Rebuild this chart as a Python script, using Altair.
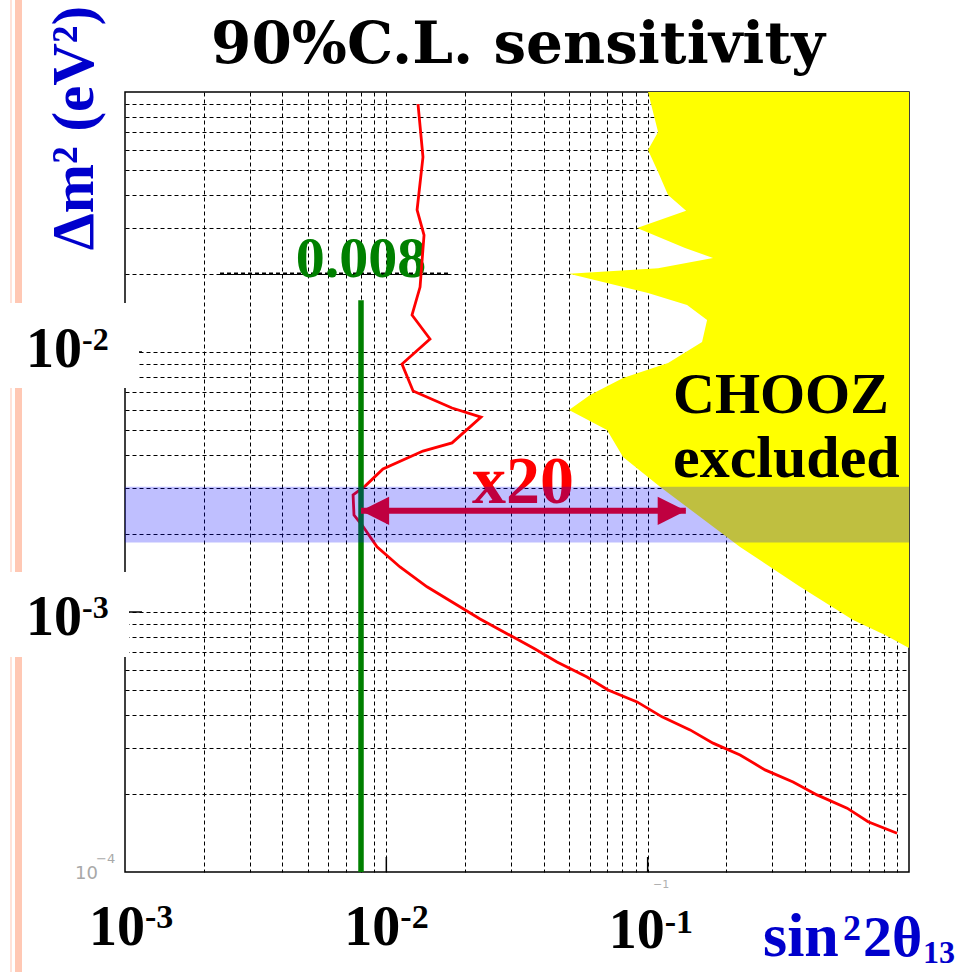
import altair as alt
import pandas as pd

# ---- data -----------------------------------------------------------------
# 90% C.L. sensitivity contour: sin^2(2 theta13) vs delta m^2 (eV^2)
sens_s2t = [0.01322, 0.01381, 0.01311, 0.01394, 0.01346, 0.01254, 0.01469,
            0.01148, 0.01266, 0.01784, 0.02304, 0.01784, 0.01381, 0.00971,
            0.00829, 0.00746, 0.00752, 0.00807, 0.00921, 0.01128, 0.01431,
            0.02284, 0.03708, 0.04499, 0.05862, 0.07055, 0.0911, 0.1135,
            0.1453, 0.1779, 0.2258, 0.2813, 0.3601, 0.4448, 0.5796, 0.6975,
            0.9003]
sens_dm2 = [0.0899, 0.0562, 0.03517, 0.02818, 0.01778, 0.01388, 0.01122,
            0.00899, 0.00708, 0.00609, 0.00562, 0.00447, 0.00416, 0.00355,
            0.00305, 0.00282, 0.00236, 0.00216, 0.00178, 0.00149, 0.00125,
            0.00094, 0.000721, 0.000642, 0.000562, 0.000501, 0.000451,
            0.000395, 0.000352, 0.000313, 0.000282, 0.000247, 0.000222,
            0.000198, 0.000176, 0.000156, 0.000141]

# CHOOZ excluded region: left boundary, region extends to sin^2 = 1
chooz_s2t = [0.1003, 0.1096, 0.1003, 0.1096, 0.1197, 0.1403, 0.0911, 0.1390,
             0.1779, 0.1096, 0.0500, 0.1003, 0.1415, 0.1688, 0.1615, 0.1197,
             0.0805, 0.0602, 0.0500, 0.0699, 0.0805, 0.1115, 0.2258, 0.3831,
             0.6110, 0.8101, 1.0]
chooz_dm2 = [0.1, 0.0702, 0.0598, 0.0492, 0.0402, 0.0349, 0.0300, 0.0251,
             0.0230, 0.0210, 0.0200, 0.01686, 0.01517, 0.01327, 0.01093,
             0.00907, 0.00794, 0.00683, 0.00598, 0.00501, 0.00395, 0.00303,
             0.00178, 0.00125, 0.000931, 0.000815, 0.000727]

# atmospheric delta m^2 band
band_dm2 = [0.00185, 0.00303]
# sensitivity value and its line extent
best_s2t = 0.008
best_line_dm2 = [0.0001, 0.0158]
# "x20" improvement arrow
arrow_s2t = [0.008, 0.14]
arrow_dm2 = 0.00245
# dotted highlight segment at delta m^2 = 0.02
highlight_s2t = [0.00231, 0.01753]
highlight_dm2 = 0.02

x_decades = [1e-3, 1e-2, 1e-1]
y_decades = [1e-2, 1e-3]
x_exponents = ["-3", "-2", "-1"]
y_exponents = ["-2", "-3"]
x_grid = [k * d for d in (1e-3, 1e-2, 1e-1) for k in range(1, 10)][1:]
y_grid = [k * d for d in (1e-4, 1e-3, 1e-2) for k in range(1, 10)][1:]

# ---- styling ----------------------------------------------------------------
W, H = 784, 780
SERIF = "Liberation Serif"
WIDE_SERIF = "DejaVu Serif"
SANS = "DejaVu Sans"
BLUE = "#0000CC"
GREEN = "#008000"
RED = "#FF0000"

xs = alt.Scale(type="log", domain=[1e-3, 1], nice=False)
ys = alt.Scale(type="log", domain=[1e-4, 1e-1], nice=False)


def grid_axis(values):
    return alt.Axis(values=values, grid=True, gridColor="black",
                    gridDash=[4, 3], gridWidth=1, gridOpacity=1,
                    labels=False, ticks=False, domain=False, title=None)


one = pd.DataFrame({"k": [0]})


def txt(text, x, y, size, color="black", font=SERIF, align="left", angle=0,
        weight="bold"):
    return alt.Chart(one).mark_text(
        text=text, align=align, baseline="alphabetic", font=font,
        fontSize=size, fontWeight=weight, color=color, angle=angle,
    ).encode(x=alt.value(x), y=alt.value(y))


def box(x1, x2, y1, y2, color):
    return alt.Chart(one).mark_rect(color=color).encode(
        x=alt.value(x1), x2=alt.value(x2), y=alt.value(y1), y2=alt.value(y2))


# ---- layers -----------------------------------------------------------------
chooz_df = pd.DataFrame({"s2t": chooz_s2t, "dm2": chooz_dm2,
                         "edge": [1.0] * len(chooz_s2t)})
chooz = alt.Chart(chooz_df).mark_area(orient="horizontal", color="#FFFF00",
                                      opacity=1).encode(
    y=alt.Y("dm2:Q", scale=ys, axis=grid_axis(y_grid)),
    x=alt.X("s2t:Q", scale=xs, axis=grid_axis(x_grid)),
    x2="edge:Q",
)

highlight = alt.Chart(pd.DataFrame({"a": [highlight_s2t[0]], "b": [highlight_s2t[1]],
                                    "y": [highlight_dm2]})).mark_rule(
    color="black", strokeWidth=2.4, strokeDash=[4, 3]).encode(
    x=alt.X("a:Q", scale=xs), x2="b:Q", y=alt.Y("y:Q", scale=ys))

best_label = alt.Chart(pd.DataFrame({"x": [best_s2t]})).mark_text(
    text="0.008", align="center", baseline="alphabetic", font=SERIF,
    fontSize=58, fontWeight="bold", color=GREEN).encode(
    x=alt.X("x:Q", scale=xs), y=alt.value(185))

sens_df = pd.DataFrame({"s2t": sens_s2t, "dm2": sens_dm2,
                        "i": list(range(len(sens_s2t)))})
sens = alt.Chart(sens_df).mark_line(color=RED, strokeWidth=2.8).encode(
    x=alt.X("s2t:Q", scale=xs), y=alt.Y("dm2:Q", scale=ys), order="i:Q")

best_line = alt.Chart(pd.DataFrame({"x": [best_s2t], "y1": [best_line_dm2[0]],
                                    "y2": [best_line_dm2[1]]})).mark_rule(
    color=GREEN, strokeWidth=5.5).encode(
    x=alt.X("x:Q", scale=xs), y=alt.Y("y1:Q", scale=ys), y2="y2:Q")

arrow_df = pd.DataFrame({"a": [arrow_s2t[0]], "b": [arrow_s2t[1]], "y": [arrow_dm2]})
shaft = alt.Chart(arrow_df).mark_rule(color=RED, strokeWidth=6).encode(
    x=alt.X("a:Q", scale=xs), x2="b:Q", y=alt.Y("y:Q", scale=ys))
head_l = alt.Chart(arrow_df).mark_point(
    shape="M1,-1L-1,0L1,1Z", size=800, filled=True, opacity=1, color=RED,
    xOffset=14).encode(x=alt.X("a:Q", scale=xs), y=alt.Y("y:Q", scale=ys))
head_r = alt.Chart(arrow_df).mark_point(
    shape="M-1,-1L1,0L-1,1Z", size=800, filled=True, opacity=1, color=RED,
    xOffset=-14).encode(x=alt.X("b:Q", scale=xs), y=alt.Y("y:Q", scale=ys))
x20 = txt("x20", 347, 411, 68, color=RED)

band = alt.Chart(pd.DataFrame({"x1": [1e-3], "x2": [1.0], "y1": [band_dm2[0]],
                               "y2": [band_dm2[1]]})).mark_rect(
    color="#0000FF", opacity=0.25).encode(
    x=alt.X("x1:Q", scale=xs), x2="x2:Q", y=alt.Y("y1:Q", scale=ys), y2="y2:Q")

# inward major ticks
xticks = alt.Chart(pd.DataFrame({"v": x_decades[1:]})).mark_rule(
    color="black", strokeWidth=1.5).encode(
    x=alt.X("v:Q", scale=xs), y=alt.value(H - 15), y2=alt.value(H))
yticks = alt.Chart(pd.DataFrame({"v": y_decades})).mark_rule(
    color="black", strokeWidth=1.5).encode(
    y=alt.Y("v:Q", scale=ys), x=alt.value(0), x2=alt.value(17))

# side decoration stripes and label backgrounds
stripes = [box(-115, -113, -92, H + 100, "#FFE2D8"),
           box(-110, -103, -92, H + 100, "#FFC8B4")]
label_boxes = [box(-125, 14, 211, 296, "white"),
               box(-125, 4, 480, 565, "white")]

# tick labels 10^n
tick_labels = []
for v, e, dx, base, sup in zip(x_decades, x_exponents, [20, 14, 17],
                               [853, 853, 856], [836, 836, 841]):
    d = pd.DataFrame({"v": [v]})
    tick_labels.append(alt.Chart(d).mark_text(
        text="10", align="right", baseline="alphabetic", dx=dx, font=SERIF,
        fontSize=56, fontWeight="bold", color="black").encode(
        x=alt.X("v:Q", scale=xs), y=alt.value(base)))
    tick_labels.append(alt.Chart(d).mark_text(
        text=e, align="left", baseline="alphabetic", dx=dx, font=SERIF,
        fontSize=34, fontWeight="bold", color="black").encode(
        x=alt.X("v:Q", scale=xs), y=alt.value(sup)))
for v, e, dy, sdy in zip(y_decades, y_exponents, [15, 23], [-2, 6]):
    d = pd.DataFrame({"v": [v]})
    tick_labels.append(alt.Chart(d).mark_text(
        text="10", align="right", baseline="alphabetic", dy=dy, font=SERIF,
        fontSize=56, fontWeight="bold", color="black").encode(
        y=alt.Y("v:Q", scale=ys), x=alt.value(-43)))
    tick_labels.append(alt.Chart(d).mark_text(
        text=e, align="left", baseline="alphabetic", dy=sdy, font=SERIF,
        fontSize=32, fontWeight="bold", color="black").encode(
        y=alt.Y("v:Q", scale=ys), x=alt.value(-43)))

texts = [
    txt("90%C.L. sensitivity", 393, -29, 58, font=WIDE_SERIF, align="center"),
    txt("CHOOZ", 548, 321, 58),
    txt("excluded", 548, 385, 60),
    txt("\u0394m\u00b2 (eV\u00b2)", -32, 36, 59, color=BLUE, align="center",
        angle=270),
    txt("sin", 638, 864, 62, color=BLUE),
    txt("2", 718, 848, 36, color=BLUE),
    txt("2\u03b8", 738, 864, 58, color=BLUE),
    txt("13", 798, 871, 32, color=BLUE),
    txt("10", -50, 787, 18, color="#A8A8A8", font=SANS, weight="normal"),
    txt("\u22124", -29, 771, 13, color="#A8A8A8", font=SANS, weight="normal"),
    txt("\u22121", 528, 796, 11, color="#B0B0B0", font=SANS, weight="normal"),
]

chart = alt.layer(
    chooz, *stripes, highlight, best_label, sens, best_line, shaft, head_l,
    head_r, x20, band, xticks, yticks, *label_boxes, *tick_labels, *texts,
).properties(
    width=W, height=H,
    autosize=alt.AutoSizeParams(type="none"),
    padding={"left": 125, "top": 92, "right": 58, "bottom": 100},
    background="white",
).configure_view(stroke="black", strokeWidth=1.5)

chart.save("out.html", embed_options={"renderer": "svg", "actions": False})
